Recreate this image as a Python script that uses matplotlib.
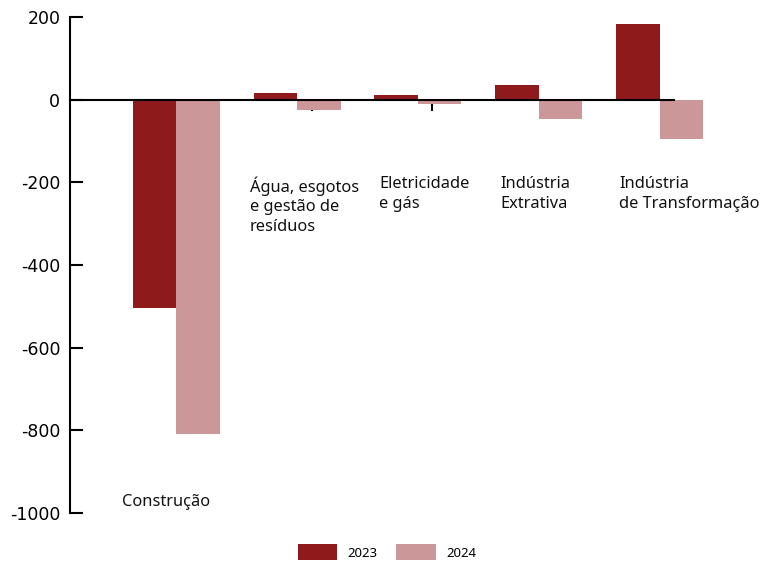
import matplotlib
matplotlib.use('Agg')
import matplotlib.pyplot as plt
import numpy as np

# setores e saldo por ano
categories = ['Construção', 'Água, esgotos\ne gestão de\nresíduos', 'Eletricidade\ne gás',
              'Indústria\nExtrativa', 'Indústria\nde Transformação']
values_2023 = [-505, 17, 12, 36, 184]
values_2024 = [-809, -26, -11, -46, -96]
years = ['2023', '2024']
y_ticks = [200, 0, -200, -400, -600, -800, -1000]

color_2023 = '#8f1a1c'
color_2024 = '#cc9799'

fig = plt.figure(figsize=(7.61, 5.64), dpi=100)
ax = fig.add_axes([0.092, 0.0904, 0.7937, 0.8794])

x = np.arange(len(categories))
w = 0.36
b1 = ax.bar(x + 0.52, values_2023, width=w, align='edge', color=color_2023, label=years[0],
            zorder=3, clip_on=False)
b2 = ax.bar(x + 0.52 + w, values_2024, width=w, align='edge', color=color_2024, label=years[1],
            zorder=3, clip_on=False)

ax.set_xlim(0, 5)
ax.set_ylim(-1000, 200)
ax.set_yticks(y_ticks)
ax.set_yticklabels([str(v) for v in y_ticks], fontsize=12.5, family='DejaVu Sans')
ax.tick_params(axis='y', direction='in', length=9.5, width=1.5, pad=7)

ax.set_xticks([1, 2, 3, 4])
ax.set_xticklabels([])
ax.tick_params(axis='x', direction='out', length=8, width=1.5)

for s in ['top', 'right']:
    ax.spines[s].set_visible(False)
ax.spines['left'].set_linewidth(1.5)
ax.spines['bottom'].set_position(('data', 0))
ax.spines['bottom'].set_linewidth(1.5)
ax.spines['bottom'].set_zorder(4)

# rótulos dos setores
label_pos = [(0.43, -973, 'center'), (1.49, -185, 'top'), (2.56, -185, 'top'),
             (3.56, -185, 'top'), (4.545, -185, 'top')]
for (lx, ly, va), name in zip(label_pos, categories):
    ax.text(lx, ly, name, fontsize=11.8, family='Noto Sans', va=va, ha='left',
            color='#111111', linespacing=1.3)

fig.legend(handles=[b1, b2], labels=years, loc='center', bbox_to_anchor=(387/761, 0.021),
           ncol=2, frameon=False, prop={'family': 'Noto Sans', 'size': 9.5},
           handlelength=3.0, handleheight=1.5, handletextpad=0.8, columnspacing=1.4, borderpad=0)

plt.savefig('out.png', dpi=100)
plt.close()
